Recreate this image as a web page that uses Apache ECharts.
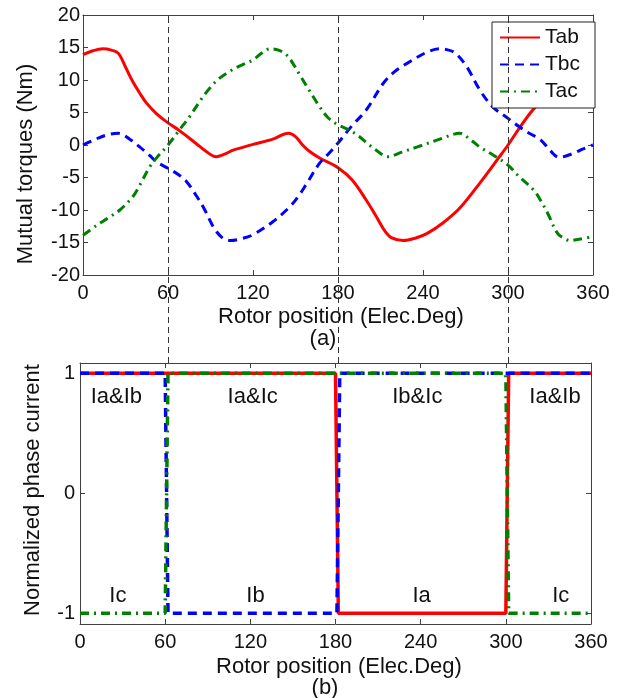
<!DOCTYPE html>
<html>
<head>
<meta charset="utf-8">
<script src="https://cdn.jsdelivr.net/npm/echarts@6/dist/echarts.min.js"></script>
<style>html,body{margin:0;padding:0;background:#fff}#c{width:623px;height:698px}</style>
</head>
<body>
<div id="c"></div>
<script>
// ---- data ----
const legendNames = ['Tab', 'Tbc', 'Tac'];
const xTicks = [0, 60, 120, 180, 240, 300, 360];
const yTicksTop = [-20, -15, -10, -5, 0, 5, 10, 15, 20];
const yTicksBottom = [-1, 0, 1];
const dividers = [60, 180, 300];

const tab = [[0,13.9],[7,14.5],[14,14.8],[20,14.6],[25,14.1],[30,12],[35,9.8],[40,8],[45,6.4],[52,4.8],[60,3.4],[67,2.4],[73,1.4],[80,0.2],[87,-1.0],[94,-1.8],[100,-1.4],[106,-0.8],[120,0.1],[134,0.9],[145,1.8],[150,1.3],[155,0],[160,-1],[167,-2],[180,-3.5],[190,-5.4],[200,-8.5],[207,-11],[213,-13.2],[218,-14.3],[226,-14.7],[235,-14.3],[243,-13.6],[254,-12],[266,-9.7],[280,-5.9],[294,-1.8],[300,0],[308,2.6],[316,5],[323,6.8],[330,9.8],[337,12],[345,13.6],[352,14.2],[360,13.9]];
const tbc = [[0,0],[8,0.8],[16,1.5],[25,1.8],[33,0.9],[40,-0.3],[47,-1.6],[52,-2.6],[60,-3.6],[67,-4.5],[73,-5.6],[80,-7.8],[86,-10],[92,-12.6],[98,-14.2],[104,-14.7],[112,-14.4],[120,-13.8],[134,-11.8],[146,-9.5],[152,-7.9],[158,-5.9],[167,-2.8],[174,-1.2],[180,0.3],[190,3],[200,5.4],[212,9.5],[220,11.3],[229,12.6],[243,14.3],[252,14.8],[258,14.6],[263,14.1],[271,12],[280,8.5],[289,5.9],[300,4.1],[308,2.8],[315,1.8],[323,0.8],[330,-0.9],[336,-1.9],[346,-1.3],[353,-0.6],[360,0]];
const tac = [[0,-13.9],[10,-12.3],[18,-11.2],[26,-10],[35,-8],[41,-5.8],[47,-3.4],[53,-1.7],[60,0],[68,2.3],[75,4.3],[83,6.9],[90,8.9],[96,10.2],[104,11.4],[112,12.3],[120,13.1],[126,14.1],[132,14.8],[138,14.6],[144,13.8],[148,12.6],[153,10.8],[160,8.3],[167,5.9],[173,4.2],[180,3.1],[188,2.3],[195,1.3],[201,0.2],[207,-0.8],[215,-1.8],[225,-1.1],[236,-0.3],[252,0.9],[266,1.8],[273,0.9],[280,-0.3],[290,-1.6],[300,-3.1],[308,-4.9],[318,-6.9],[323,-8.5],[328,-10.5],[335,-13.6],[340,-14.4],[344,-14.7],[350,-14.5],[360,-14.1]];

const ia = [[0,1],[180,1],[182,-1],[300,-1],[302,1],[360,1]];
const ib = [[0,1],[60,1],[62,-1],[181,-1],[183,1],[360,1]];
const ic = [[0,-1],[60,-1],[62,1],[300,1],[302,-1],[360,-1]];

const annTexts = ['Ia&Ib', 'Ia&Ic', 'Ib&Ic', 'Ia&Ib', 'Ic', 'Ib', 'Ia', 'Ic'];
const annX = [26, 122, 238, 335, 27, 124, 241, 339];
const annY = [0.8, 0.8, 0.8, 0.8, -0.86, -0.86, -0.86, -0.86];

// ---- styles ----
const FONT = "'Liberation Sans', Arial, sans-serif";
const AX = '#404040';
const TXT = '#111';
const RED = '#ff0000', BLUE = '#0000ff', GREEN = '#008000';
const DASH = [9, 6];
const DASHDOT = [9, 5, 2, 5];

function xAx(grid, pos, showLabel) {
  return {
    type: 'value', gridIndex: grid, position: pos, min: 0, max: 360, interval: 60,
    axisLine: { show: true, onZero: false, lineStyle: { color: AX, width: 1 } },
    axisTick: { show: true, inside: true, length: 5, lineStyle: { color: AX } },
    axisLabel: { show: showLabel, fontSize: 20, fontFamily: FONT, color: TXT, margin: 8,
      formatter: v => xTicks.includes(v) ? String(v) : '' },
    splitLine: { show: false }
  };
}
function yTop(pos, showLabel) {
  return {
    type: 'value', gridIndex: 0, position: pos, min: yTicksTop[0], max: yTicksTop[yTicksTop.length - 1], interval: 5,
    axisLine: { show: true, onZero: false, lineStyle: { color: AX, width: 1 } },
    axisTick: { show: true, inside: true, length: 5, lineStyle: { color: AX } },
    axisLabel: { show: showLabel, fontSize: 20, fontFamily: FONT, color: TXT, margin: 3 },
    splitLine: { show: false }
  };
}
function yBot(pos, showLabel) {
  return {
    type: 'value', gridIndex: 1, position: pos, min: -1.09, max: 1.085,
    axisLine: { show: true, onZero: false, lineStyle: { color: AX, width: 1 } },
    axisTick: { show: true, inside: true, length: 5, lineStyle: { color: AX }, customValues: yTicksBottom },
    axisLabel: { show: showLabel, fontSize: 20, fontFamily: FONT, color: TXT, margin: 5, customValues: yTicksBottom },
    splitLine: { show: false }
  };
}

const chart = echarts.init(document.getElementById('c'), null, { renderer: 'canvas' });
chart.setOption({
  animation: false,
  backgroundColor: '#fff',
  grid: [
    { left: 83, top: 15, width: 510, height: 260 },
    { left: 80, top: 363, width: 511, height: 261 },
    { left: 83, top: 15, width: 510, height: 348 }
  ],
  xAxis: [
    xAx(0, 'bottom', true), xAx(0, 'top', false),
    xAx(1, 'bottom', true), xAx(1, 'top', false),
    { type: 'value', gridIndex: 2, min: 0, max: 360, show: false }
  ],
  yAxis: [
    yTop('left', true), yTop('right', false),
    yBot('left', true), yBot('right', false),
    { type: 'value', gridIndex: 2, min: 0, max: 1, show: false }
  ],
  legend: {
    data: legendNames, orient: 'vertical', left: 492, top: 22,
    padding: [5, 15, 6, 7], itemWidth: 40, itemHeight: 20, itemGap: 6,
    backgroundColor: '#fff', borderColor: '#222', borderWidth: 1, borderRadius: 0,
    itemStyle: { color: 'rgba(0,0,0,0)', borderWidth: 0, opacity: 0 },
    textStyle: { fontSize: 21, fontFamily: FONT, color: TXT }
  },
  graphic: [
    { type: 'text', x: 341, y: 317, style: { text: 'Rotor position (Elec.Deg)', font: '22px ' + FONT, fill: TXT, textAlign: 'center', textVerticalAlign: 'middle' } },
    { type: 'text', x: 323, y: 339, style: { text: '(a)', font: '22px ' + FONT, fill: TXT, textAlign: 'center', textVerticalAlign: 'middle' } },
    { type: 'text', x: 339, y: 667, style: { text: 'Rotor position (Elec.Deg)', font: '22px ' + FONT, fill: TXT, textAlign: 'center', textVerticalAlign: 'middle' } },
    { type: 'text', x: 325, y: 688, style: { text: '(b)', font: '22px ' + FONT, fill: TXT, textAlign: 'center', textVerticalAlign: 'middle' } },
    { type: 'text', x: 26, y: 164, rotation: Math.PI / 2, style: { text: 'Mutual torques (Nm)', font: '22px ' + FONT, fill: TXT, textAlign: 'center', textVerticalAlign: 'middle' } },
    { type: 'text', x: 33, y: 490, rotation: Math.PI / 2, style: { text: 'Normalized phase current', font: '22px ' + FONT, fill: TXT, textAlign: 'center', textVerticalAlign: 'middle' } }
  ],
  series: [
    { name: 'dividers', type: 'line', xAxisIndex: 4, yAxisIndex: 4, data: [[0, 0]], symbol: 'none', lineStyle: { opacity: 0 }, silent: true, z: 1,
      markLine: { silent: true, symbol: ['none', 'none'], label: { show: false },
        lineStyle: { color: '#333', width: 1, type: [6, 4] },
        data: dividers.map(d => ({ xAxis: d })) } },
    { name: 'Tab', type: 'line', xAxisIndex: 0, yAxisIndex: 0, data: tab, smooth: 0.35, symbol: 'none', lineStyle: { color: RED, width: 3 }, itemStyle: { color: RED } },
    { name: 'Tbc', type: 'line', xAxisIndex: 0, yAxisIndex: 0, data: tbc, smooth: 0.35, symbol: 'none', lineStyle: { color: BLUE, width: 3, type: DASH }, itemStyle: { color: BLUE } },
    { name: 'Tac', type: 'line', xAxisIndex: 0, yAxisIndex: 0, data: tac, smooth: 0.35, symbol: 'none', lineStyle: { color: GREEN, width: 3, type: DASHDOT }, itemStyle: { color: GREEN } },
    { name: 'Ia', type: 'line', xAxisIndex: 2, yAxisIndex: 2, data: ia, symbol: 'none', lineStyle: { color: RED, width: 3.5 } },
    { name: 'Ib', type: 'line', xAxisIndex: 2, yAxisIndex: 2, data: ib, symbol: 'none', lineStyle: { color: BLUE, width: 3.5, type: DASH } },
    { name: 'Ic', type: 'line', xAxisIndex: 2, yAxisIndex: 2, data: ic, symbol: 'none', lineStyle: { color: GREEN, width: 3.5, type: DASHDOT } },
    { name: 'annotations', type: 'scatter', xAxisIndex: 2, yAxisIndex: 2, symbolSize: 1, silent: true,
      itemStyle: { color: 'rgba(0,0,0,0)', opacity: 1 },
      data: annTexts.map((t, i) => ({ name: t, value: [annX[i], annY[i]] })),
      label: { show: true, position: [0, 0], align: 'center', verticalAlign: 'middle', formatter: p => p.name,
        fontSize: 22, fontFamily: FONT, color: TXT, opacity: 1, textBorderWidth: 0 } }
  ]
});
</script>
</body>
</html>
